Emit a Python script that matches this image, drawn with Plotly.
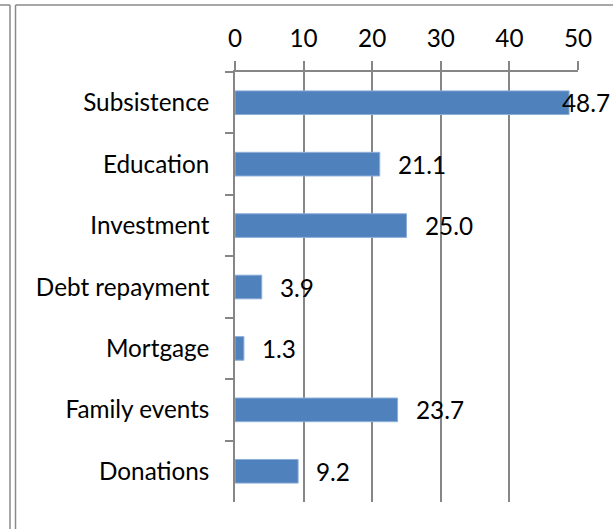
import plotly.graph_objects as go

# Loan use categories (top to bottom) and share of borrowers, %
categories = ["Subsistence", "Education", "Investment", "Debt repayment",
              "Mortgage", "Family events", "Donations"]
shares = [48.7, 21.1, 25.0, 3.9, 1.3, 23.7, 9.2]
x_ticks = [0, 10, 20, 30, 40, 50]
x_tick_labels = ["0", "10", "20", "30", "40", "50"]

FIG_W, FIG_H = 613, 529
M_L, M_R, M_T, M_B = 235, 35, 72, 27
PLOT_W = FIG_W - M_L - M_R
PLOT_H = FIG_H - M_T - M_B
X_MAX = x_ticks[-1]

FONT = "Lato"
FONT_SIZE = 24.3
AXIS_GREY = "#868686"
BAR_BLUE = "#4F81BD"


def px_to_paper_x(px):
    return (px - M_L) / PLOT_W


def px_to_paper_y(py):
    return 1 - (py - M_T) / PLOT_H


fig = go.Figure(
    go.Bar(
        x=shares,
        y=categories,
        orientation="h",
        width=0.385,
        marker=dict(color=BAR_BLUE, line=dict(color="#8EAEDA", width=1)),
        hoverinfo="x+y",
    )
)

# Value labels just past the end of each bar, kept inside the figure
annotations = []
label_gap = 16
label_w_est = 47
for cat, val in zip(categories, shares):
    end_px = M_L + val / X_MAX * PLOT_W
    text = f"{val:.1f}"
    if end_px + label_gap + label_w_est > FIG_W - 1:
        annotations.append(dict(
            x=px_to_paper_x(FIG_W - 1), xref="paper", y=cat, yref="y",
            text=text, showarrow=False, xanchor="right",
            font=dict(family=FONT, size=FONT_SIZE, color="#000000"),
        ))
    else:
        annotations.append(dict(
            x=val, xref="x", y=cat, yref="y", text=text, showarrow=False,
            xanchor="left", xshift=label_gap,
            font=dict(family=FONT, size=FONT_SIZE, color="#000000"),
        ))

# Surrounding frame lines
frame_col = "#8A8A8A"
shapes = [
    dict(type="line", xref="paper", yref="paper",
         x0=px_to_paper_x(10), x1=px_to_paper_x(10),
         y0=px_to_paper_y(5), y1=px_to_paper_y(FIG_H + 5),
         line=dict(color=frame_col, width=1.5)),
    dict(type="line", xref="paper", yref="paper",
         x0=px_to_paper_x(15.5), x1=px_to_paper_x(15.5),
         y0=px_to_paper_y(5), y1=px_to_paper_y(FIG_H + 5),
         line=dict(color=frame_col, width=1.5)),
    dict(type="line", xref="paper", yref="paper",
         x0=px_to_paper_x(-5), x1=px_to_paper_x(10),
         y0=px_to_paper_y(5), y1=px_to_paper_y(5),
         line=dict(color=frame_col, width=1.5)),
    dict(type="line", xref="paper", yref="paper",
         x0=px_to_paper_x(15.5), x1=px_to_paper_x(FIG_W + 5),
         y0=px_to_paper_y(5), y1=px_to_paper_y(5),
         line=dict(color=frame_col, width=1.5)),
]

fig.update_layout(
    width=FIG_W,
    height=FIG_H,
    margin=dict(l=M_L, r=M_R, t=M_T, b=M_B, pad=0),
    paper_bgcolor="#FFFFFF",
    plot_bgcolor="#FFFFFF",
    showlegend=False,
    font=dict(family=FONT, size=FONT_SIZE, color="#000000"),
    annotations=annotations,
    shapes=shapes,
)

fig.update_xaxes(
    side="top",
    range=[0, X_MAX],
    tickmode="array",
    tickvals=x_ticks,
    ticktext=x_tick_labels,
    showgrid=True,
    gridcolor=AXIS_GREY,
    gridwidth=1.5,
    zeroline=False,
    showline=True,
    linecolor=AXIS_GREY,
    linewidth=1.5,
    ticks="outside",
    ticklen=9,
    tickwidth=1.5,
    tickcolor=AXIS_GREY,
    ticklabelstandoff=5,
    tickfont=dict(family=FONT, size=FONT_SIZE, color="#000000"),
    fixedrange=True,
)

fig.update_yaxes(
    type="category",
    categoryorder="array",
    categoryarray=categories,
    autorange="reversed",
    tickson="boundaries",
    ticks="outside",
    ticklen=8,
    tickwidth=1.5,
    tickcolor=AXIS_GREY,
    showline=True,
    linecolor=AXIS_GREY,
    linewidth=1.5,
    showgrid=False,
    ticklabelstandoff=19,
    tickfont=dict(family=FONT, size=FONT_SIZE, color="#000000"),
    fixedrange=True,
)

fig.write_html("out.html")
